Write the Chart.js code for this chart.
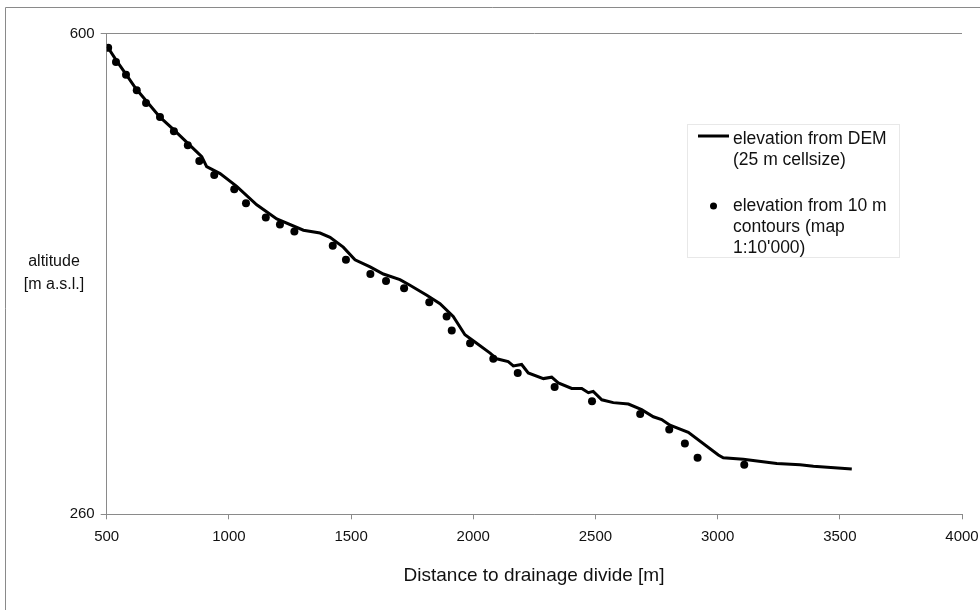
<!DOCTYPE html>
<html>
<head>
<meta charset="utf-8">
<script src="https://cdn.jsdelivr.net/npm/chart.js@4/dist/chart.umd.min.js"></script>
<style>
  html, body { margin: 0; padding: 0; background: #fff; }
  #cadre { width: 980px; height: 610px; position: relative; }
</style>
</head>
<body>
<div id="cadre"><canvas id="graphe" width="980" height="610"></canvas></div>
<script>
'use strict';

/* === DONNÉES === */
const DEM_X = [502, 540, 580, 620, 664, 718, 775, 841, 889, 909, 964, 1032, 1114, 1196, 1305, 1373, 1414,
  1468, 1516, 1578, 1632, 1700, 1741, 1810, 1864, 1918, 1966, 2014, 2069, 2096, 2143, 2164, 2198,
  2225, 2287, 2321, 2348, 2403, 2444, 2471, 2491, 2526, 2573, 2635, 2689, 2737, 2771, 2805, 2880,
  3003, 3023, 3105, 3242, 3337, 3392, 3549];
const DEM_Y = [591, 581, 571, 561, 552, 541, 532, 521, 513, 506, 501, 492, 479, 469, 461, 459, 456,
  449, 440, 435, 430, 426, 422, 415, 409, 400, 387, 381, 374, 370, 368, 365, 366,
  360, 356, 357, 353, 349, 349, 346, 347, 341, 339, 338, 334, 329, 327, 323, 318,
  302, 300, 299, 296, 295, 294, 292];

const COURBES_X = [506, 538, 579, 623, 661, 718, 775, 832, 879, 940, 1022, 1070, 1151, 1209, 1268,
  1425, 1479, 1579, 1643, 1717, 1820, 1891, 1912, 1987, 2082, 2182, 2333, 2486, 2683, 2802, 2866,
  2918, 3109];
const COURBES_Y = [590, 580, 571, 560, 551, 541, 531, 521, 510, 500, 490, 480, 470, 465, 460,
  450, 440, 430, 425, 420, 410, 400, 390, 381, 370, 360, 350, 340, 331, 320, 310,
  300, 295];

const TICKS_X = [500, 1000, 1500, 2000, 2500, 3000, 3500, 4000];
const TICKS_Y = [260, 600];

const LEGENDE = [
  ['elevation from DEM', '(25 m cellsize)'],
  ['elevation from 10 m', 'contours (map', "1:10'000)"]
];
const TITRE_X = 'Distance to drainage divide [m]';
const TITRE_Y = ['altitude', '[m a.s.l.]'];

/* === STYLE === */
const POLICE = '"Liberation Sans", Arial, sans-serif';
const GRIS = '#8a8a8a';

function enPoints(xs, ys) {
  return xs.map((x, i) => ({ x, y: ys[i] }));
}

/* textes et cadre dessinés par-dessus */
const habillage = {
  id: 'habillage',
  afterDraw(chart) {
    const ctx = chart.ctx;
    ctx.save();

    // cadre extérieur
    ctx.strokeStyle = GRIS;
    ctx.lineWidth = 1;
    ctx.beginPath();
    ctx.moveTo(5.5, 610);
    ctx.lineTo(5.5, 7.5);
    ctx.lineTo(980, 7.5);
    ctx.stroke();

    ctx.fillStyle = '#111';
    ctx.textBaseline = 'middle';

    // titre axe Y (horizontal)
    ctx.font = '16px ' + POLICE;
    ctx.textAlign = 'center';
    ctx.fillText(TITRE_Y[0], 54, 262);
    ctx.fillText(TITRE_Y[1], 54, 285);

    // titre axe X
    ctx.font = '19px ' + POLICE;
    ctx.fillText(TITRE_X, 534, 576);

    // légende
    ctx.strokeStyle = '#e8e8e8';
    ctx.strokeRect(687.5, 124.5, 212, 133);

    ctx.strokeStyle = '#000';
    ctx.lineWidth = 3;
    ctx.beginPath();
    ctx.moveTo(698, 136);
    ctx.lineTo(729, 136);
    ctx.stroke();

    ctx.fillStyle = '#000';
    ctx.beginPath();
    ctx.arc(713.5, 206, 3.5, 0, Math.PI * 2);
    ctx.fill();

    ctx.fillStyle = '#111';
    ctx.font = '17.5px ' + POLICE;
    ctx.textAlign = 'left';
    LEGENDE[0].forEach((l, i) => ctx.fillText(l, 733, 139 + i * 21));
    LEGENDE[1].forEach((l, i) => ctx.fillText(l, 733, 206 + i * 21));

    ctx.restore();
  }
};

new Chart(document.getElementById('graphe'), {
  type: 'scatter',
  data: {
    datasets: [
      {
        label: LEGENDE[0].join(' '),
        data: enPoints(DEM_X, DEM_Y),
        showLine: true,
        borderColor: '#000',
        borderWidth: 3,
        pointRadius: 0,
        tension: 0
      },
      {
        label: LEGENDE[1].join(' '),
        data: enPoints(COURBES_X, COURBES_Y),
        showLine: false,
        backgroundColor: '#000',
        borderColor: '#000',
        pointRadius: 4,
        pointBorderWidth: 0
      }
    ]
  },
  options: {
    responsive: false,
    animation: false,
    layout: { padding: { left: 0, top: 33.7, right: 18, bottom: 0 } },
    plugins: {
      legend: { display: false },
      tooltip: { enabled: false }
    },
    scales: {
      x: {
        type: 'linear',
        min: 500,
        max: 4000,
        afterBuildTicks: scale => { scale.ticks = TICKS_X.map(v => ({ value: v })); },
        afterFit: scale => {
          scale.height = 610 - 514.3;
          scale.paddingLeft = 0;
          scale.paddingRight = 0;
        },
        border: { display: true, color: GRIS, width: 1 },
        grid: { drawOnChartArea: false, drawTicks: true, tickLength: 5, color: GRIS },
        ticks: {
          color: '#111',
          font: { family: POLICE, size: 15 },
          padding: 9,
          maxRotation: 0,
          callback: v => String(v)
        }
      },
      y: {
        type: 'linear',
        min: 260,
        max: 600,
        afterBuildTicks: scale => { scale.ticks = TICKS_Y.map(v => ({ value: v })); },
        afterFit: scale => {
          scale.width = 106.7;
          scale.paddingTop = 0;
          scale.paddingBottom = 0;
        },
        border: { display: true, color: GRIS, width: 1 },
        grid: { drawOnChartArea: true, drawTicks: true, tickLength: 6, color: GRIS },
        ticks: {
          color: '#111',
          font: { family: POLICE, size: 15 },
          padding: 6,
          callback: v => String(v)
        }
      }
    }
  },
  plugins: [habillage]
});
</script>
</body>
</html>
